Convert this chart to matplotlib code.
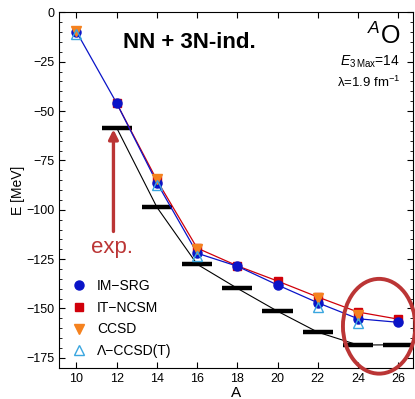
import numpy as np
import matplotlib
matplotlib.use('Agg')
import matplotlib.pyplot as plt
from matplotlib.patches import Ellipse
from matplotlib.lines import Line2D
from matplotlib.ticker import MultipleLocator

plt.rcParams['font.family'] = ['Liberation Sans', 'DejaVu Sans']
plt.rcParams['mathtext.fontset'] = 'custom'
plt.rcParams['mathtext.rm'] = 'Liberation Sans'
plt.rcParams['mathtext.it'] = 'Liberation Sans:italic'

# Energies in MeV vs mass number A
A_imsrg = [10, 12, 14, 16, 18, 20, 22, 24, 26]
E_imsrg = [-9.8, -46.0, -86.3, -122.0, -128.6, -138.1, -147.1, -155.2, -157.0]

A_itncsm = [12, 14, 16, 18, 20, 22, 24, 26]
E_itncsm = [-46.1, -85.0, -119.4, -128.4, -136.1, -144.2, -151.8, -155.4]

A_ccsd = [10, 14, 16, 22, 24]
E_ccsd = [-9.3, -84.6, -119.8, -144.8, -153.3]

A_lccsdt = [10, 14, 16, 22, 24]
E_lccsdt = [-10.8, -87.6, -123.4, -149.1, -157.3]

A_exp = [12, 14, 16, 18, 20, 22, 24, 26]
E_exp = [-58.5, -98.7, -127.6, -139.8, -151.4, -162.0, -168.5, -168.4]

blue = '#0a14c8'
red = '#d0000a'
orange = '#f5821f'
lblue = '#3aa6df'
darkred = '#bb3535'

fig = plt.figure(figsize=(4.15, 3.99), dpi=100)
ax = fig.add_axes([0.143, 0.0784, 0.853, 0.8907])

# experiment: bars plus thin connecting line
ax.plot(A_exp, E_exp, color='black', lw=0.8, zorder=2)
for a, e in zip(A_exp, E_exp):
    ax.plot([a - 0.75, a + 0.75], [e, e], color='black', lw=3.2,
            solid_capstyle='butt', zorder=3)

ax.plot(A_itncsm, E_itncsm, color=red, lw=0.9, zorder=4)
ax.plot(A_imsrg, E_imsrg, color=blue, lw=0.9, zorder=4)
ax.plot(A_itncsm, E_itncsm, 's', color=red, ms=6, zorder=5)
ax.plot(A_imsrg, E_imsrg, 'o', color=blue, ms=6.5, zorder=5)
ax.plot(A_ccsd, E_ccsd, 'v', color=orange, ms=7, zorder=6)
ax.plot(A_lccsdt, E_lccsdt, '^', mfc='none', mec=lblue, mew=1, ms=7, zorder=7)

ax.set_xlim(9.15, 26.75)
ax.set_ylim(-180, 0)
ax.xaxis.set_major_locator(MultipleLocator(2))
ax.yaxis.set_major_locator(MultipleLocator(25))
ax.yaxis.set_minor_locator(MultipleLocator(5))
ax.tick_params(which='both', direction='in', top=True, right=True, labelsize=9)
ax.tick_params(which='major', length=4)
ax.tick_params(which='minor', length=2)
ax.set_xlabel('A', fontsize=11, labelpad=1)
ax.set_ylabel('E [MeV]', fontsize=10, labelpad=1)

ax.text(15.63, -15.5, 'NN + 3N-ind.', fontsize=16, fontweight='bold',
        ha='center', va='center')
ax.text(26.12, -12, r'$^{A}$O', fontsize=18, ha='right', va='center')
ax.text(26.1, -25.2, r'$E_{3\,\mathrm{Max}}$=14', fontsize=10, ha='right', va='center')
ax.text(26.1, -35.5, 'λ=1.9 fm$^{-1}$', fontsize=9.5, ha='right', va='center')

# arrow pointing at experiment
ax.annotate('', xy=(11.84, -59.3), xytext=(11.84, -111),
            arrowprops=dict(arrowstyle='-|>', color=darkred, lw=2.4,
                            mutation_scale=14, shrinkA=0, shrinkB=0))
ax.text(11.76, -119, 'exp.', fontsize=16, color=darkred, ha='center', va='center')

ax.add_patch(Ellipse((25.05, -159), 3.6, 48, fill=False, ec=darkred, lw=2.8,
                     clip_on=False, zorder=8))

handles = [
    Line2D([], [], ls='none', marker='o', color=blue, ms=6.5),
    Line2D([], [], ls='none', marker='s', color=red, ms=6),
    Line2D([], [], ls='none', marker='v', color=orange, ms=7),
    Line2D([], [], ls='none', marker='^', mfc='none', mec=lblue, ms=7),
]
labels = ['IM\u2212SRG', 'IT\u2212NCSM', 'CCSD', '\u039b\u2212CCSD(T)']
ax.legend(handles, labels, loc='lower left', frameon=False, fontsize=10,
          handlelength=1.0, handletextpad=0.8, labelspacing=0.55,
          bbox_to_anchor=(0.0, -0.008), borderaxespad=0.5)

fig.savefig('out.png', dpi=100)
